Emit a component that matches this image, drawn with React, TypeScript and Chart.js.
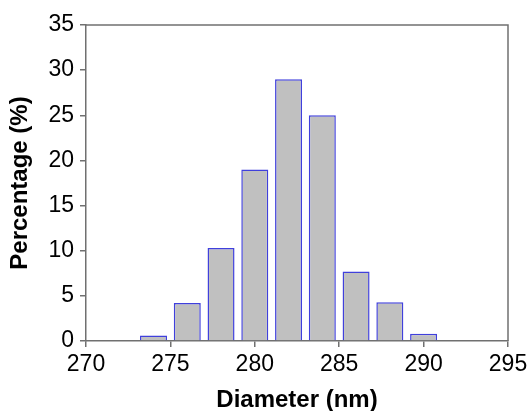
import React, { useEffect, useRef } from "react";
import { Chart, registerables } from "chart.js";

Chart.register(...registerables);

const diameters = [274, 276, 278, 280, 282, 284, 286, 288, 290];
const percentages = [0.6, 4.2, 10.3, 19, 29, 25, 7.7, 4.3, 0.8];
const xTickValues = [270, 275, 280, 285, 290, 295];
const yTickValues = [0, 5, 10, 15, 20, 25, 30, 35];

const AXIS_COLOR = "#707070";
const FONT = "'Liberation Sans', Arial, sans-serif";

const framePlugin = {
  id: "frame",
  afterDatasetsDraw(chart: any) {
    const { ctx, chartArea } = chart;
    ctx.save();
    ctx.strokeStyle = AXIS_COLOR;
    ctx.lineWidth = 1.5;
    ctx.beginPath();
    ctx.moveTo(chartArea.left, chartArea.top);
    ctx.lineTo(chartArea.right, chartArea.top);
    ctx.lineTo(chartArea.right, chartArea.bottom);
    ctx.stroke();
    ctx.restore();
  },
};

export default function App() {
  const ref = useRef<HTMLCanvasElement | null>(null);

  useEffect(() => {
    document.body.style.margin = "0";
    const canvas = ref.current;
    if (!canvas) return;
    const chart = new Chart(canvas, {
      type: "bar",
      data: {
        datasets: [
          {
            data: diameters.map((d, i) => ({ x: d, y: percentages[i] })),
            backgroundColor: "#c0c0c0",
            borderColor: "#4040dc",
            borderWidth: 1.5,
            categoryPercentage: 1,
            barPercentage: 0.8,
          },
        ],
      },
      options: {
        animation: false,
        responsive: false,
        maintainAspectRatio: false,
        layout: { padding: { top: 25, right: 19, left: 0, bottom: 0 } },
        plugins: {
          legend: { display: false },
          tooltip: { enabled: false },
        },
        scales: {
          x: {
            type: "linear",
            min: 270,
            max: 295,
            offset: false,
            afterBuildTicks: (scale: any) => {
              scale.ticks = xTickValues.map((v) => ({ value: v }));
            },
            afterFit: (scale: any) => {
              scale.height = 70;
              scale.paddingLeft = 0;
              scale.paddingRight = 0;
            },
            grid: {
              offset: false,
              drawOnChartArea: false,
              drawTicks: true,
              tickLength: 6,
              color: AXIS_COLOR,
              lineWidth: 1.5,
            },
            border: { display: true, color: AXIS_COLOR, width: 1.5 },
            ticks: {
              color: "#000",
              font: { family: FONT, size: 23 },
              padding: 4,
              maxRotation: 0,
            },
            title: {
              display: true,
              text: "Diameter (nm)",
              color: "#000",
              font: { family: FONT, size: 24, weight: "bold", lineHeight: 0.85 },
              padding: { top: 0, bottom: 0 },
            },
          },
          y: {
            min: 0,
            max: 35,
            afterBuildTicks: (scale: any) => {
              scale.ticks = yTickValues.map((v) => ({ value: v }));
            },
            afterFit: (scale: any) => {
              scale.width = 86;
              scale.paddingTop = 0;
              scale.paddingBottom = 0;
            },
            grid: {
              drawOnChartArea: false,
              drawTicks: true,
              tickLength: 6,
              color: AXIS_COLOR,
              lineWidth: 1.5,
            },
            border: { display: true, color: AXIS_COLOR, width: 1.5 },
            ticks: {
              color: "#000",
              font: { family: FONT, size: 23 },
              padding: 6,
            },
            title: {
              display: true,
              text: "Percentage (%)",
              color: "#000",
              font: { family: FONT, size: 24, weight: "bold", lineHeight: 1.2 },
              padding: { top: 6, bottom: 0 },
            },
          },
        },
      },
      plugins: [framePlugin],
    });
    return () => chart.destroy();
  }, []);

  return (
    <div style={{ width: 527, height: 411 }}>
      <canvas ref={ref} width={527} height={411} style={{ display: "block" }} />
    </div>
  );
}
